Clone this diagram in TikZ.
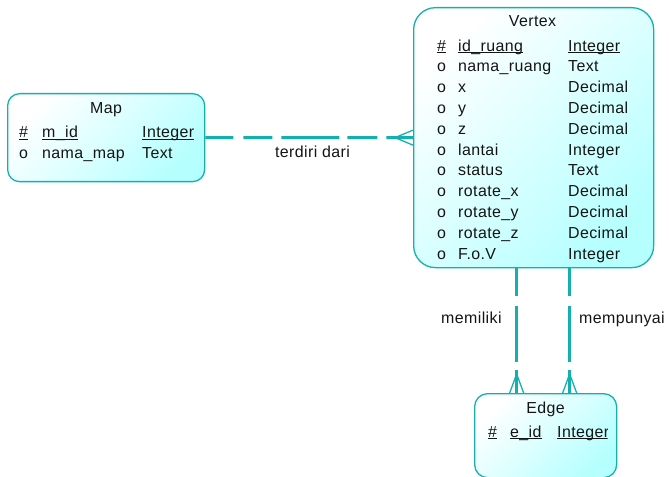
\documentclass[tikz,border=0pt]{standalone}
\usepackage{fontspec}
\setmainfont[LetterSpace=2.5]{Liberation Sans}
\usetikzlibrary{calc}
\definecolor{erline}{RGB}{20,176,176}
\definecolor{erfill}{RGB}{182,255,255}
\definecolor{ertext}{RGB}{20,20,20}
% underline drawn just under the baseline of a named text node
\newcommand\ulnode[1]{\draw[ertext, line width=0.8bp]
  ($(#1.base west)+(0,1.6)$) -- ($(#1.base east)+(0,1.6)$);}
\begin{document}
\begin{tikzpicture}[x=1bp, y=-1bp,
  erbox/.style={draw=erline, line width=1.3bp, rounded corners=#1,
    top color=white, bottom color=erfill, shading angle=45,
    inner sep=0pt, anchor=north west},
  txt/.style={anchor=base west, inner sep=0pt, text=ertext,
    font=\fontsize{16}{19}\selectfont},
  ttl/.style={txt, anchor=base},
  rel/.style={draw=erline, line width=3bp},
  foot/.style={draw=erline, line width=1.3bp}]
\useasboundingbox (0,0) rectangle (669,477);

% entity boxes
\node[erbox=12, minimum width=197bp, minimum height=88bp] (map) at (7,93) {};
\node[erbox=22, minimum width=240bp, minimum height=260bp] (vertex) at (413,7) {};
\node[erbox=13, minimum width=142bp, minimum height=84bp] (edge) at (474,393) {};

% Map
\node[ttl] (maptitle) at (106,114) {Map};
\node[txt] (mk1) at (19,138) {\#};
\node[txt] (mn1) at (42,138) {m\_id};
\node[txt] (mt1) at (142,138) {Integer};
\ulnode{mk1}\ulnode{mn1}\ulnode{mt1}
\node[txt] (mk2) at (19,159) {o};
\node[txt] (mn2) at (42,159) {nama\_map};
\node[txt] (mt2) at (142,159) {Text};

% Vertex
\node[ttl] (vtitle) at (532.5,27) {Vertex};
\node[txt] (vk0) at (437,51.1) {\#};
\node[txt] (vn0) at (458,51.1) {id\_ruang};
\node[txt] (vt0) at (568,51.1) {Integer};
\ulnode{vk0}\ulnode{vn0}\ulnode{vt0}
\foreach \n/\t [count=\i] in {nama\_ruang/Text, x/Decimal, y/Decimal,
    z/Decimal, lantai/Integer, status/Text, rotate\_x/Decimal,
    rotate\_y/Decimal, rotate\_z/Decimal, F.o.V/Integer}{
  \node[txt] (vk\i) at (437,{51.1+20.8*\i}) {o};
  \node[txt] (vn\i) at (458,{51.1+20.8*\i}) {\n};
  \node[txt] (vt\i) at (568,{51.1+20.8*\i}) {\t};
}

% Edge
\node[ttl] (etitle) at (545.5,413) {Edge};
\begin{scope}
\clip (474,393) rectangle (607.5,477);
\node[txt] (ek1) at (488,437) {\#};
\node[txt] (en1) at (510,437) {e\_id};
\node[txt] (et1) at (557,437) {Integer};
\ulnode{ek1}\ulnode{en1}\ulnode{et1}
\end{scope}

% relationship Map -- Vertex
\draw[rel, dash pattern=on 28bp off 10bp on 29bp off 9bp on 58bp off 8bp on 30bp off 9bp on 200bp]
  (map.east) -- (vertex.west);
\coordinate (hf) at ($(vertex.west)+(-18,0)$);
\draw[foot] ($(vertex.west)+(0,-7.5)$) -- (hf) -- ($(vertex.west)+(0,7.5)$);
\node[ttl] (lterdiri) at (312.5,158) {terdiri dari};

% relationships Vertex -- Edge
\coordinate (m1) at ($(vertex.south)+(-17,0)$);
\coordinate (m2) at ($(vertex.south)+(36,0)$);
\coordinate (e1) at (m1 |- edge.north);
\coordinate (e2) at (m2 |- edge.north);
\foreach \a/\b in {m1/e1, m2/e2}{
  \draw[rel, dash pattern=on 28bp off 10bp on 56bp off 8bp on 200bp] (\a) -- (\b);
  \coordinate (f) at ($(\b)+(0,-19)$);
  \draw[foot] ($(\b)+(-7,0)$) -- (f) -- ($(\b)+(7,0)$);
}
\node[txt] (lmemiliki) at (441,323) {memiliki};
\node[txt] (lmempunyai) at (579,323) {mempunyai};
\end{tikzpicture}
\end{document}
